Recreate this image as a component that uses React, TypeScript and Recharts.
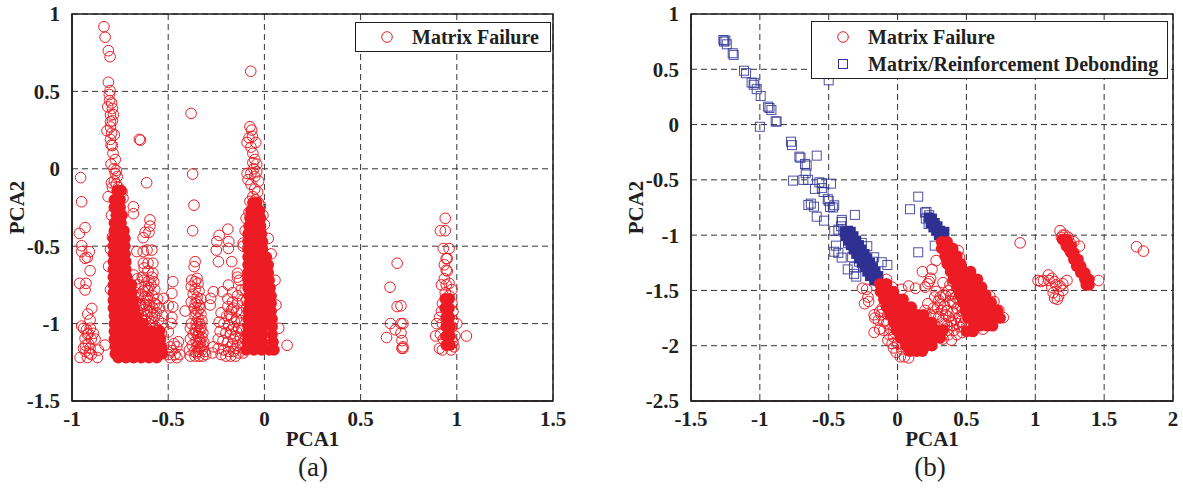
import React from "react";
import { ScatterChart, Scatter, XAxis, YAxis, CartesianGrid, ReferenceArea } from "recharts";

type Pt = [number, number];
type Row = [number, number[]];

const ticksAX = [-1, -0.5, 0, 0.5, 1, 1.5];
const ticksAY = [-1.5, -1, -0.5, 0, 0.5, 1];
const ticksBX = [-1.5, -1, -0.5, 0, 0.5, 1, 1.5, 2];
const ticksBY = [-2.5, -2, -1.5, -1, -0.5, 0, 0.5, 1];

// Panel (a): individually readable open markers
const failureSpineA: Pt[] = [
  [-0.834, 0.918], [-0.828, 0.85], [-0.811, 0.763], [-0.802, 0.724], [-0.811, 0.559], [-0.802, 0.505], [-0.806, 0.48],
  [-0.794, 0.425], [-0.814, 0.4], [-0.79, 0.39], [-0.8, 0.347], [-0.8, 0.304], [-0.8, 0.27], [-0.818, 0.246], [-0.794, 0.23],
  [-0.797, 0.154], [-0.79, 0.15], [-0.787, 0.1], [-0.797, 0.03], [-0.782, 0.0], [-0.775, -0.03], [-0.765, -0.05], [-0.795, -0.09],
  [-0.78, -0.08], [-0.758, -0.12], [-0.74, -0.15], [-0.812, -0.18], [-0.735, -0.19], [-0.795, -0.3], [-0.79, -0.44], [-0.8, -0.52],
  [-0.81, -0.63], [-0.735, -0.4], [-0.725, -0.55], [-0.8, -0.78], [-0.785, 0.35], [-0.805, 0.44], [-0.79, 0.31], [-0.78, 0.22], [-0.8, 0.19],
  [-0.775, 0.06], [-0.77, -0.01], [-0.79, -0.12], [-0.77, -0.1],
];
const failureLeftA: Pt[] = [
  [-0.955, -0.057], [-0.95, -0.213], [-0.932, -0.38], [-0.962, -0.417], [-0.95, -0.497], [-0.95, -0.535], [-0.91, -0.535],
  [-0.932, -0.578], [-0.92, -0.572], [-0.906, -0.658], [-0.961, -0.74], [-0.927, -0.74], [-0.932, -0.783], [-0.897, -0.902],
  [-0.918, -0.938], [-0.906, -0.977], [-0.95, -1.016], [-0.94, -1.03], [-0.915, -1.063], [-0.889, -1.063], [-0.932, -1.096],
  [-0.88, -1.1], [-0.828, -1.139], [-0.94, -1.16], [-0.906, -1.16], [-0.863, -1.171], [-0.958, -1.219], [-0.92, -1.219],
  [-0.868, -1.219], [-0.925, -1.04], [-0.905, -1.03], [-0.93, -1.18], [-0.9, -1.2], [-0.915, -1.13], [-0.92, -1.07], [-0.9, -1.1],
  [-0.93, -1.14], [-0.91, -1.19],
];
const failureMidA: Pt[] = [
  [-0.65, 0.19], [-0.644, 0.185], [-0.612, -0.09], [-0.681, -0.245], [-0.681, -0.29], [-0.595, -0.33], [-0.595, -0.37], [-0.62, -0.41],
  [-0.6, -0.41], [-0.63, -0.445], [-0.663, -0.535], [-0.63, -0.535], [-0.585, -0.525], [-0.61, -0.525], [-0.629, -0.61], [-0.605, -0.61],
  [-0.58, -0.61], [-0.625, -0.64], [-0.58, -0.675], [-0.605, -0.66], [-0.68, -0.686], [-0.66, -0.71], [-0.585, -0.7], [-0.625, -0.72],
  [-0.655, -0.75], [-0.62, -0.76], [-0.59, -0.75], [-0.57, -0.78], [-0.605, -0.79], [-0.67, -0.8], [-0.64, -0.81], [-0.58, -0.82],
  [-0.61, -0.84], [-0.555, -0.84], [-0.67, -0.86], [-0.645, -0.88], [-0.6, -0.88], [-0.57, -0.87], [-0.68, -0.9], [-0.625, -0.91],
  [-0.59, -0.92], [-0.545, -0.9], [-0.655, -0.94], [-0.61, -0.95], [-0.57, -0.95], [-0.635, -0.98], [-0.59, -0.99], [-0.55, -0.98],
  [-0.66, -1.02], [-0.61, -1.03], [-0.565, -1.02], [-0.53, -1.0], [-0.64, -1.06], [-0.59, -1.07], [-0.535, -1.06], [-0.525, -0.837],
  [-0.476, -0.729], [-0.481, -0.805], [-0.499, -0.885], [-0.476, -0.891], [-0.412, -0.919], [-0.481, -0.96], [-0.485, -0.999],
  [-0.499, -1.053], [-0.447, -1.117], [-0.47, -1.13], [-0.49, -1.15], [-0.455, -1.15], [-0.5, -1.2], [-0.465, -1.2], [-0.48, -1.175],
  [-0.44, -1.2], [-0.49, -1.22], [-0.455, -1.22], [-0.6, -0.72], [-0.575, -0.73], [-0.635, -0.7], [-0.62, -0.83], [-0.595, -0.85],
  [-0.63, -0.87], [-0.58, -0.9], [-0.56, -0.93], [-0.61, -0.92], [-0.64, -0.95], [-0.585, -0.96], [-0.6, -1.0], [-0.575, -1.03],
  [-0.625, -1.04], [-0.65, -1.0], [-0.68, -0.97], [-0.67, -1.04], [-0.55, -1.04], [-0.65, -0.9], [-0.615, -0.88], [-0.56, -0.88],
  [-0.53, -0.95], [-0.62, -0.98], [-0.665, -0.98], [-0.6, -0.77], [-0.63, -0.79], [-0.655, -0.83],
];
const failureColA: Pt[] = [
  [-0.381, 0.358], [-0.373, -0.034], [-0.366, -0.235], [-0.373, -0.4], [-0.36, -0.6], [-0.365, -0.632], [-0.35, -0.708], [-0.378, -0.719],
  [-0.36, -0.73], [-0.345, -0.74], [-0.38, -0.76], [-0.36, -0.78], [-0.34, -0.79], [-0.37, -0.81], [-0.35, -0.83], [-0.33, -0.84],
  [-0.38, -0.86], [-0.36, -0.87], [-0.34, -0.88], [-0.365, -0.9], [-0.345, -0.92], [-0.33, -0.94], [-0.36, -0.95], [-0.345, -0.97],
  [-0.325, -0.98], [-0.38, -1.0], [-0.355, -1.0], [-0.33, -1.02], [-0.385, -1.03], [-0.36, -1.04], [-0.34, -1.05], [-0.32, -1.06],
  [-0.37, -1.07], [-0.345, -1.08], [-0.325, -1.09], [-0.385, -1.1], [-0.355, -1.11], [-0.335, -1.12], [-0.315, -1.12], [-0.375, -1.14],
  [-0.35, -1.15], [-0.33, -1.15], [-0.39, -1.17], [-0.365, -1.18], [-0.345, -1.18], [-0.325, -1.17], [-0.31, -1.18], [-0.385, -1.21],
  [-0.36, -1.21], [-0.34, -1.21], [-0.32, -1.21], [-0.305, -1.2], [-0.35, -0.86], [-0.335, -0.9], [-0.355, -0.93], [-0.335, -1.0],
  [-0.35, -1.02], [-0.33, -1.04], [-0.355, -1.06], [-0.335, -1.1], [-0.345, -1.13], [-0.32, -1.14], [-0.34, -1.165], [-0.355, -1.19],
];
const failureRightColA: Pt[] = [
  [-0.265, -0.794], [-0.279, -0.837], [-0.282, -0.88], [-0.218, -0.794], [-0.187, -0.751], [-0.14, -0.675], [-0.17, -0.6], [-0.239, -0.6],
  [-0.25, -0.525], [-0.187, -0.514], [-0.247, -0.47], [-0.235, -0.43], [-0.185, -0.47], [-0.19, -0.39], [-0.14, -0.7], [-0.13, -0.72],
  [-0.11, -0.5], [-0.12, -0.78], [-0.165, -0.8], [-0.14, -0.82], [-0.19, -0.84], [-0.165, -0.86], [-0.14, -0.87], [-0.115, -0.85],
  [-0.19, -0.89], [-0.17, -0.91], [-0.145, -0.92], [-0.12, -0.93], [-0.225, -0.93], [-0.195, -0.95], [-0.17, -0.96], [-0.145, -0.97],
  [-0.12, -0.98], [-0.235, -0.99], [-0.21, -1.0], [-0.185, -1.01], [-0.16, -1.02], [-0.135, -1.03], [-0.115, -1.04], [-0.23, -1.05],
  [-0.2, -1.06], [-0.175, -1.07], [-0.15, -1.08], [-0.125, -1.09], [-0.24, -1.1], [-0.215, -1.11], [-0.19, -1.12], [-0.165, -1.13],
  [-0.14, -1.14], [-0.115, -1.13], [-0.265, -1.15], [-0.24, -1.16], [-0.21, -1.17], [-0.185, -1.18], [-0.16, -1.18], [-0.135, -1.19],
  [-0.11, -1.19], [-0.27, -1.19], [-0.225, -1.2], [-0.2, -1.21], [-0.175, -1.21], [-0.15, -1.21], [-0.16, -0.9], [-0.18, -0.94],
  [-0.155, -0.99], [-0.17, -1.04], [-0.145, -1.05], [-0.16, -1.1], [-0.175, -1.15], [-0.15, -1.16],
];
const failureZeroSpineA: Pt[] = [
  [-0.071, 0.63], [-0.075, 0.272], [-0.066, 0.25], [-0.08, 0.2], [-0.062, 0.21], [-0.09, 0.17], [-0.045, 0.17], [-0.07, 0.14],
  [-0.06, 0.1], [-0.05, 0.06], [-0.06, 0.04], [-0.04, 0.03], [-0.055, 0.0], [-0.04, -0.02], [-0.07, -0.03], [-0.09, -0.03],
  [-0.085, -0.07], [-0.05, -0.05], [-0.03, -0.08], [-0.07, -0.1], [-0.05, -0.13], [-0.035, -0.15], [-0.06, -0.18], [-0.045, -0.2],
  [-0.075, -0.21], [-0.02, -0.24], [-0.03, -0.22], [-0.08, -0.28], [-0.095, -0.32], [-0.008, -0.3], [-0.1, -0.4], [0.0, -0.36],
  [0.02, -0.45], [0.035, -0.55], [-0.11, -0.48], [0.055, -0.72], [-0.1, -0.78], [0.06, -0.88], [-0.095, -0.85], [0.075, -1.03],
  [0.118, -1.14], [-0.1, -1.1], [-0.11, -1.16],
];
const failureFarA: Pt[] = [
  [0.69, -0.61], [0.653, -0.765], [0.69, -0.89], [0.71, -0.885], [0.655, -1.0], [0.71, -1.0], [0.72, -1.0], [0.68, -1.04], [0.71, -1.06],
  [0.635, -1.09], [0.715, -1.11], [0.72, -1.15], [0.715, -1.16], [0.72, -1.16],
  [0.94, -0.32], [0.915, -0.4], [0.94, -0.4], [0.93, -0.515], [0.96, -0.515], [0.945, -0.58], [0.95, -0.58], [0.935, -0.62],
  [0.945, -0.655], [0.95, -0.66], [0.935, -0.71], [0.92, -0.75], [0.945, -0.75], [0.96, -0.74], [0.975, -0.78], [0.94, -0.8],
  [0.96, -0.82], [0.95, -0.85], [0.925, -0.87], [0.975, -0.87], [0.94, -0.9], [0.91, -0.96], [0.98, -0.98], [0.895, -1.0], [1.0, -1.0],
  [0.89, -1.08], [0.915, -1.07], [0.99, -1.08], [1.05, -1.08], [0.91, -1.16], [0.925, -1.17], [0.985, -1.15], [0.97, -1.17],
  [0.92, -0.92], [0.98, -0.92], [0.925, -1.0], [0.975, -1.02], [0.93, -1.1], [0.98, -1.12],
];
const failureCoreRowsA: Row[] = [
  [-0.14, [-0.765, -0.745]], [-0.2, [-0.78, -0.75]], [-0.25, [-0.78, -0.75]], [-0.3, [-0.77, -0.74]], [-0.35, [-0.78, -0.745]],
  [-0.4, [-0.78, -0.755, -0.73]], [-0.45, [-0.785, -0.755, -0.725]], [-0.5, [-0.785, -0.755, -0.725]], [-0.55, [-0.785, -0.755, -0.725]],
  [-0.6, [-0.785, -0.755, -0.72]], [-0.65, [-0.785, -0.755, -0.72]], [-0.7, [-0.785, -0.75, -0.715]], [-0.75, [-0.785, -0.75, -0.715, -0.69]],
  [-0.8, [-0.785, -0.75, -0.71, -0.69]], [-0.85, [-0.785, -0.745, -0.705, -0.68]], [-0.9, [-0.785, -0.745, -0.705, -0.675]], [-0.95, [-0.78, -0.74, -0.7, -0.665]],
  [-1.0, [-0.78, -0.74, -0.7, -0.66, -0.63]], [-1.05, [-0.78, -0.74, -0.7, -0.66, -0.62, -0.58, -0.545]], [-1.1, [-0.78, -0.74, -0.7, -0.66, -0.62, -0.58, -0.54]],
  [-1.15, [-0.775, -0.735, -0.695, -0.655, -0.615, -0.575, -0.535]], [-1.195, [-0.775, -0.735, -0.695, -0.655, -0.615, -0.575, -0.53]],
  [-1.22, [-0.76, -0.72, -0.68, -0.64, -0.6, -0.56]],
  [-0.22, [-0.06, -0.04]], [-0.27, [-0.07, -0.045, -0.025]], [-0.32, [-0.075, -0.045, -0.02]], [-0.37, [-0.08, -0.05, -0.02]],
  [-0.42, [-0.085, -0.05, -0.015]], [-0.47, [-0.085, -0.05, -0.01]], [-0.52, [-0.085, -0.05, -0.01]], [-0.57, [-0.085, -0.05, -0.01, 0.01]],
  [-0.62, [-0.085, -0.05, -0.015, 0.02]], [-0.67, [-0.085, -0.05, -0.015, 0.02]], [-0.72, [-0.085, -0.05, -0.01, 0.025]],
  [-0.77, [-0.085, -0.045, -0.005, 0.03]], [-0.82, [-0.08, -0.04, 0.0, 0.035]], [-0.87, [-0.08, -0.04, 0.0, 0.035]],
  [-0.92, [-0.085, -0.045, -0.005, 0.035]], [-0.97, [-0.085, -0.045, -0.005, 0.04]], [-1.02, [-0.085, -0.045, -0.005, 0.04]],
  [-1.07, [-0.09, -0.05, -0.01, 0.04]], [-1.12, [-0.09, -0.05, -0.01, 0.045]], [-1.17, [-0.095, -0.055, -0.015, 0.025, 0.05]],
  [-0.84, [0.94, 0.96]], [-0.9, [0.94, 0.96]], [-0.96, [0.945, 0.96]], [-1.02, [0.945, 0.965]], [-1.08, [0.945, 0.965]], [-1.14, [0.945, 0.965]],
];

// Panel (b)
const debondB: Pt[] = [
  [-1.265, 0.765], [-1.26, 0.75], [-1.25, 0.76], [-1.24, 0.726], [-1.197, 0.645], [-1.19, 0.63], [-1.115, 0.487], [-1.1, 0.465],
  [-1.06, 0.38], [-1.04, 0.375], [-1.045, 0.36], [-1.023, 0.32], [-0.994, 0.258], [-0.94, 0.162], [-0.93, 0.15], [-0.916, 0.132],
  [-0.878, 0.026], [-0.885, 0.03], [-1.0, -0.02], [-0.774, -0.155], [-0.767, -0.186], [-0.713, -0.29], [-0.705, -0.3], [-0.587, -0.281],
  [-0.672, -0.356], [-0.66, -0.37], [-0.667, -0.44], [-0.759, -0.507], [-0.684, -0.5], [-0.65, -0.5], [-0.568, -0.522], [-0.55, -0.53],
  [-0.483, -0.534], [-0.6, -0.582], [-0.55, -0.575], [-0.537, -0.61], [-0.507, -0.675], [-0.5, -0.69], [-0.648, -0.727], [-0.63, -0.715],
  [-0.607, -0.742], [-0.49, -0.745], [-0.46, -0.73], [-0.47, -0.75], [-0.587, -0.833], [-0.534, -0.869], [-0.31, -0.817], [-0.405, -0.862],
  [-0.46, -0.962], [-0.43, -0.95], [-0.406, -0.88], [-0.41, -0.92], [-0.447, -1.095], [-0.46, -1.15], [-0.43, -1.16], [-0.406, -1.203],
  [-0.362, -1.31], [-0.316, -1.29], [-0.316, -1.35], [-0.3, -1.375], [-0.115, -1.245], [-0.074, -1.27], [-0.22, -1.1], [-0.17, -1.2],
  [-0.5, 0.4], [-0.33, -1.2], [-0.28, -1.24], [-0.18, -1.24], [-0.26, -1.07], [-0.36, -1.07],
  [0.15, -0.652], [0.09, -0.766], [0.199, -0.796], [0.21, -0.79], [0.23, -0.82], [0.15, -1.155], [0.27, -1.095], [0.205, -0.85], [0.225, -0.9],
];
const debondCoreB: Pt[] = [
  [-0.385, -0.97], [-0.36, -0.96], [-0.34, -0.97], [-0.38, -1.01], [-0.35, -1.01], [-0.32, -1.01], [-0.36, -1.05], [-0.33, -1.05], [-0.3, -1.05],
  [-0.34, -1.09], [-0.31, -1.09], [-0.28, -1.09], [-0.32, -1.13], [-0.29, -1.13], [-0.26, -1.13], [-0.3, -1.17], [-0.27, -1.17], [-0.24, -1.17],
  [-0.28, -1.21], [-0.25, -1.21], [-0.22, -1.21], [-0.26, -1.25], [-0.23, -1.25], [-0.2, -1.25], [-0.24, -1.29], [-0.21, -1.29], [-0.18, -1.29],
  [-0.22, -1.33], [-0.19, -1.33], [-0.16, -1.33], [-0.2, -1.37], [-0.17, -1.37], [-0.14, -1.37], [-0.17, -1.41], [-0.14, -1.41],
  [0.225, -0.84], [0.25, -0.85], [0.24, -0.89], [0.27, -0.89], [0.26, -0.93], [0.29, -0.92], [0.28, -0.96], [0.31, -0.96], [0.3, -1.0], [0.33, -1.0], [0.34, -0.97],
];
const failureB: Pt[] = [
  [0.89, -1.07], [1.735, -1.105], [1.785, -1.145],
  [1.18, -0.96], [1.2, -1.0], [1.22, -1.04], [1.24, -1.02], [1.26, -1.08], [1.28, -1.06], [1.225, -1.1], [1.25, -1.14], [1.32, -1.1],
  [1.19, -1.02], [1.2, -1.04], [1.215, -1.0], [1.46, -1.41], [1.12, -1.39], [1.095, -1.36], [1.06, -1.41], [1.02, -1.41], [1.04, -1.42],
  [1.1, -1.41], [1.14, -1.42], [1.2, -1.44], [1.23, -1.41], [1.18, -1.46], [1.12, -1.47], [1.2, -1.5], [1.13, -1.52], [1.17, -1.55],
  [1.14, -1.57], [1.16, -1.58], [1.15, -1.45],
  [-0.255, -1.48], [-0.225, -1.49], [-0.215, -1.56], [-0.21, -1.6], [-0.24, -1.62], [-0.08, -1.4], [-0.04, -1.47], [0.03, -1.49], [-0.03, -1.55],
  [-0.17, -1.72], [-0.13, -1.69], [-0.165, -1.75], [-0.14, -1.77], [-0.12, -1.72], [-0.1, -1.78], [-0.17, -1.88], [-0.13, -1.85], [-0.1, -1.86],
  [-0.06, -1.9], [-0.07, -1.95], [-0.04, -1.98], [-0.03, -2.02], [-0.01, -2.06], [0.02, -2.1], [0.05, -2.1], [0.08, -2.11],
  [0.08, -1.46], [0.13, -1.48], [0.2, -1.47], [0.23, -1.42], [0.18, -1.33], [0.25, -1.31], [0.24, -1.39], [0.22, -1.44], [0.28, -1.23],
  [0.28, -1.51], [0.31, -1.56], [0.3, -1.59], [0.33, -1.54], [0.31, -1.62], [0.34, -1.64], [0.36, -1.68], [0.32, -1.68], [0.3, -1.74],
  [0.28, -1.72], [0.33, -1.76], [0.37, -1.74], [0.4, -1.7], [0.43, -1.66], [0.41, -1.62], [0.42, -1.56], [0.39, -1.78], [0.42, -1.76],
  [0.45, -1.74], [0.48, -1.8], [0.45, -1.83], [0.51, -1.84], [0.41, -1.86], [0.37, -1.9], [0.47, -1.88], [0.33, -1.94], [0.39, -1.95],
  [0.35, -1.55], [0.38, -1.45], [0.4, -1.42], [0.33, -1.43], [0.36, -1.21], [0.37, -1.27], [0.42, -1.36], [0.44, -1.14], [0.45, -1.2],
  [0.54, -1.5], [0.63, -1.55], [0.67, -1.55], [0.7, -1.6], [0.768, -1.745], [0.735, -1.68], [0.62, -1.85], [0.55, -1.87],
  [-0.09, -1.62], [-0.11, -1.66], [-0.07, -1.72], [-0.08, -1.8], [-0.05, -1.85], [-0.03, -1.92], [0.0, -1.98], [0.03, -2.03],
  [0.22, -1.62], [0.26, -1.66], [0.2, -1.68], [0.27, -1.56], [0.24, -1.72], [0.38, -1.6], [0.36, -1.82], [0.35, -1.72], [0.4, -1.82],
  [0.43, -1.8], [0.46, -1.78], [0.43, -1.9], [0.36, -1.86], [0.34, -1.8], [0.47, -1.68], [0.44, -1.58], [0.46, -1.64], [0.29, -1.66],
  [0.37, -1.5], [0.39, -1.54], [0.4, -1.6],
];
const failureCoreRowsB: Row[] = [
  [-1.44, [-0.13, -0.08]], [-1.51, [-0.125, -0.08, -0.03]], [-1.58, [-0.1, -0.05, 0.0, 0.04]], [-1.65, [-0.08, -0.03, 0.02, 0.07, 0.1]],
  [-1.72, [-0.055, -0.005, 0.045, 0.095, 0.145, 0.19]], [-1.79, [-0.03, 0.02, 0.07, 0.12, 0.17, 0.22, 0.25]],
  [-1.86, [-0.01, 0.04, 0.09, 0.14, 0.19, 0.24, 0.29, 0.33]], [-1.93, [0.02, 0.07, 0.12, 0.17, 0.22, 0.27, 0.31]],
  [-2.0, [0.06, 0.11, 0.16, 0.21, 0.25]], [-2.05, [0.09, 0.14, 0.18]],
  [-1.06, [0.32, 0.36]], [-1.12, [0.32, 0.36, 0.4]], [-1.19, [0.345, 0.39, 0.43]], [-1.26, [0.36, 0.41, 0.46]], [-1.33, [0.385, 0.435, 0.485, 0.53]],
  [-1.4, [0.405, 0.455, 0.505, 0.555, 0.58]], [-1.47, [0.43, 0.48, 0.53, 0.58, 0.61]], [-1.54, [0.45, 0.5, 0.55, 0.6, 0.64]],
  [-1.61, [0.475, 0.525, 0.575, 0.625, 0.68]], [-1.68, [0.49, 0.54, 0.59, 0.64, 0.69, 0.725]], [-1.75, [0.51, 0.56, 0.61, 0.66, 0.71, 0.745]],
  [-1.82, [0.555, 0.6, 0.65, 0.69]], [-1.87, [0.5, 0.545]],
  [-1.04, [1.2, 1.23]], [-1.1, [1.23, 1.26]], [-1.16, [1.26, 1.28]], [-1.22, [1.28, 1.31]], [-1.28, [1.3, 1.33]], [-1.34, [1.33, 1.36]], [-1.4, [1.36, 1.39]], [-1.45, [1.37, 1.39]],
];

const toRows = (rows: Row[]) => rows.flatMap(([y, xs]) => xs.map((x) => ({ x, y })));
const toPts = (...lists: Pt[][]) => lists.flat().map(([x, y]) => ({ x, y }));

const RED = "#ed1c24";
const BLUE = "#2e3192";
const INK = "#231f20";
const SERIF = "'Liberation Serif', 'Times New Roman', serif";
const GRID = "#333";

const tickStyle = { fontFamily: SERIF, fontWeight: 700, fontSize: 21, fill: INK };
const labelStyle = { fontFamily: SERIF, fontWeight: 700, fontSize: 21, fill: INK };

const OpenCircle = (p: any) => <circle cx={p.cx} cy={p.cy} r={5.3} fill="none" stroke={RED} strokeWidth={1} />;
const SolidCircle = (p: any) => <circle cx={p.cx} cy={p.cy} r={5.8} fill={RED} stroke="none" />;
const OpenSquare = (p: any) => <rect x={p.cx - 4.5} y={p.cy - 4.5} width={9} height={9} fill="none" stroke={BLUE} strokeOpacity={0.85} strokeWidth={1} />;
const SolidSquare = (p: any) => <rect x={p.cx - 5} y={p.cy - 5} width={10} height={10} fill={BLUE} stroke="none" />;

type PanelProps = {
  left: number;
  width: number;
  marginLeft: number;
  marginRight: number;
  xTicks: number[];
  yTicks: number[];
  children: React.ReactNode;
};

function Panel({ left, width, marginLeft, marginRight, xTicks, yTicks, children }: PanelProps) {
  const xDomain: [number, number] = [xTicks[0], xTicks[xTicks.length - 1]];
  const yDomain: [number, number] = [yTicks[0], yTicks[yTicks.length - 1]];
  return (
    <div style={{ position: "absolute", left, top: 0 }}>
      <ScatterChart width={width} height={489} margin={{ top: 14, left: marginLeft, right: marginRight, bottom: 58 }}>
        <CartesianGrid stroke={GRID} strokeDasharray="6 4" strokeWidth={1} />
        <XAxis type="number" dataKey="x" domain={xDomain} ticks={xTicks} allowDataOverflow interval={0} height={30} tickLine={false}
          axisLine={{ stroke: INK, strokeWidth: 1.5 }} tick={tickStyle} tickMargin={4}
          label={{ value: "PCA1", position: "bottom", offset: 0, style: labelStyle }} />
        <YAxis type="number" dataKey="y" domain={yDomain} ticks={yTicks} allowDataOverflow interval={0} width={60} tickLine={false}
          axisLine={{ stroke: INK, strokeWidth: 1.5 }} tick={tickStyle} tickMargin={6}
          label={{ value: "PCA2", angle: -90, position: "insideLeft", offset: 5, style: { ...labelStyle, textAnchor: "middle" } }} />
        <ReferenceArea x1={xDomain[0]} x2={xDomain[1]} y1={yDomain[0]} y2={yDomain[1]} fill="none" fillOpacity={0} stroke={INK} strokeWidth={1.5} />
        {children}
      </ScatterChart>
    </div>
  );
}

const LegendBox = ({ left, top, width, height, items }: { left: number; top: number; width: number; height: number; items: { label: string; kind: "circle" | "square"; y: number }[] }) => (
  <div style={{ position: "absolute", left, top, width, height, background: "#fff", border: `1.5px solid ${INK}`, boxSizing: "border-box", fontFamily: SERIF, fontWeight: 700, fontSize: 20, color: INK }}>
    {items.map((it) => (
      <div key={it.label} style={{ position: "absolute", left: 0, top: it.y - 12, height: 24, lineHeight: "24px", whiteSpace: "nowrap" }}>
        <svg width={14} height={14} style={{ position: "absolute", left: 24, top: 5 }}>
          {it.kind === "circle" ? <circle cx={7} cy={7} r={5.3} fill="none" stroke={RED} /> : <rect x={2.5} y={2.5} width={9} height={9} fill="none" stroke={BLUE} />}
        </svg>
        <span style={{ position: "absolute", left: 56 }}>{it.label}</span>
      </div>
    ))}
  </div>
);

const Caption = ({ x, text }: { x: number; text: string }) => (
  <div style={{ position: "absolute", left: x - 30, width: 60, top: 452, textAlign: "center", fontFamily: SERIF, fontSize: 27, color: INK }}>{text}</div>
);

const openA = toPts(failureSpineA, failureLeftA, failureMidA, failureColA, failureRightColA, failureZeroSpineA, failureFarA);
const coreA = toRows(failureCoreRowsA);
const openB = toPts(failureB);
const coreB = toRows(failureCoreRowsB);
const squaresB = toPts(debondB);
const squaresCoreB = toPts(debondCoreB);

export default function App() {
  return (
    <div style={{ position: "absolute", left: 0, top: 0, width: 1183, height: 489, background: "#fff", overflow: "hidden" }}>
      <Panel left={0} width={600} marginLeft={12} marginRight={47} xTicks={ticksAX} yTicks={ticksAY}>
        <Scatter name="Matrix Failure" data={openA} shape={OpenCircle} isAnimationActive={false} />
        <Scatter name="Matrix Failure dense" data={coreA} shape={SolidCircle} isAnimationActive={false} />
      </Panel>
      <Panel left={620} width={563} marginLeft={11} marginRight={10} xTicks={ticksBX} yTicks={ticksBY}>
        <Scatter name="Matrix/Reinforcement Debonding" data={squaresB} shape={OpenSquare} isAnimationActive={false} />
        <Scatter name="Matrix/Reinforcement Debonding dense" data={squaresCoreB} shape={SolidSquare} isAnimationActive={false} />
        <Scatter name="Matrix Failure" data={openB} shape={OpenCircle} isAnimationActive={false} />
        <Scatter name="Matrix Failure dense" data={coreB} shape={SolidCircle} isAnimationActive={false} />
      </Panel>
      <LegendBox left={355} top={22} width={196} height={30} items={[{ label: "Matrix Failure", kind: "circle", y: 14 }]} />
      <LegendBox left={811} top={21} width={357} height={58} items={[
        { label: "Matrix Failure", kind: "circle", y: 15 },
        { label: "Matrix/Reinforcement Debonding", kind: "square", y: 42 },
      ]} />
      <Caption x={313} text="(a)" />
      <Caption x={930} text="(b)" />
    </div>
  );
}
